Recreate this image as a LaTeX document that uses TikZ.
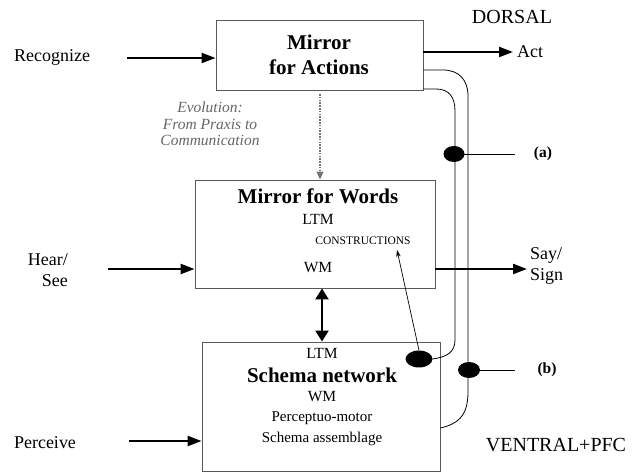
\documentclass[tikz,border=0pt]{standalone}
\usepackage{fontspec}
\setmainfont{Liberation Serif}
\usetikzlibrary{arrows.meta,shapes.geometric}
\begin{document}
\begin{tikzpicture}[x=1pt,y=-1pt,
  box/.style={draw=black!65, line width=0.9pt, inner sep=0pt},
  lbl/.style={font=\fontsize{18}{21}\selectfont, inner sep=0pt},
  ttl/.style={font=\fontsize{21}{25}\selectfont\bfseries, inner sep=0pt, align=center},
  mem/.style={font=\fontsize{15.5}{17}\selectfont, inner sep=0pt},
  region/.style={font=\fontsize{20}{22}\selectfont, inner sep=0pt},
  tag/.style={font=\fontsize{15.5}{17}\selectfont\bfseries, inner sep=0pt},
  bigarrow/.style={line width=2.2pt, -{Triangle[length=14pt,width=10pt]}},
  wire/.style={line width=0.8pt},
  blob/.style={ellipse, fill=black, inner sep=0pt}
]
\useasboundingbox (0,0) rectangle (633,473);

% boxes
\node[box, minimum width=207pt, minimum height=70pt] (act) at (319.5,55) {};
\node[box, minimum width=240pt, minimum height=108pt] (words) at (315,234) {};
\node[box, minimum width=238pt, minimum height=129pt] (schema) at (321,406.5) {};

% box texts
\node[ttl] (actT1) at (319,42) {Mirror};
\node[ttl] (actT2) at (319,67) {for Actions};
\node[ttl] (wordsT) at (318,196) {Mirror for Words};
\node[mem] (wLTM) at (318,219) {LTM};
\node[font=\fontsize{11.5}{13}\selectfont, inner sep=0pt] (cons) at (363,241) {CONSTRUCTIONS};
\node[mem] (wWM) at (318,268) {WM};
\node[mem] (sLTM) at (322,353) {LTM};
\node[ttl] (schemaT) at (322,375) {Schema network};
\node[mem] (sWM) at (322,397) {WM};
\node[font=\fontsize{15}{17}\selectfont, inner sep=0pt] (pm) at (322,418) {Perceptuo-motor};
\node[font=\fontsize{15}{17}\selectfont, inner sep=0pt] (sa) at (322,439) {Schema assemblage};

% outer labels
\node[lbl] (recognize) at (52,57) {Recognize};
\node[lbl, align=right, anchor=east] (hear) at (68,270) {Hear/\\See};
\node[lbl] (perceive) at (45,443) {Perceive};
\node[lbl, anchor=west] (actL) at (517,52) {Act};
\node[lbl, align=left, anchor=west] (say) at (530,266) {Say/\\Sign};
\node[region] (dorsal) at (512,17) {DORSAL};
\node[region] (ventral) at (556,445) {VENTRAL+PFC};
\node[tag] (ta) at (543,154) {(a)};
\node[tag] (tb) at (547,370) {(b)};
\node[font=\fontsize{15.5}{16.5}\selectfont\itshape, text=black!60, align=center, inner sep=0pt] (evo) at (210,124) {Evolution:\\From Praxis to\\Communication};

% coordinates
\coordinate (recS) at (127,58);
\coordinate (actE) at (513,52);
\coordinate (hearS) at (108,269);
\coordinate (sayE) at (527,269);
\coordinate (percS) at (129,441);
\coordinate (dbl) at (322,0);
\coordinate (evoX) at (320,94);
\coordinate (aEnd) at (515,154);
\coordinate (bEnd) at (515,370);
\coordinate (consTip) at (397,250);

% input / output arrows
\draw[bigarrow] (recS) -- (recS -| act.west);
\draw[bigarrow] (act.east |- actE) -- (actE);
\draw[bigarrow] (hearS) -- (hearS -| words.west);
\draw[bigarrow] (words.east |- sayE) -- (sayE);
\draw[bigarrow] (percS) -- (percS -| schema.west);
\draw[line width=2.4pt, {Triangle[length=11pt,width=13pt]}-{Triangle[length=11pt,width=13pt]}]
  (words.south -| dbl) -- (schema.north -| dbl);

% evolution dotted arrow
\draw[black!55, line width=1.3pt, dash pattern=on 1.6pt off 1.2pt, -{Triangle[length=8pt,width=7pt]}]
  (evoX) -- (words.north -| evoX);

% blobs
\node[blob, minimum width=27pt, minimum height=17pt] (bigblob) at (419,359) {};
\node[blob, minimum width=21pt, minimum height=16pt] (ba) at (454,154) {};
\node[blob, minimum width=22pt, minimum height=16pt] (bb) at (469,370) {};

% curved pathways
\draw[wire] (act.east |- 0,70) -- (443,70) .. controls (459,70) and (468,80) .. (468,96)
  -- (468,392) .. controls (468,417) and (457,424) .. (schema.east |- 0,428);
\draw[wire] (act.east |- 0,89) -- (436,89) .. controls (449,89) and (455,97) .. (455,111)
  -- (455,340) .. controls (455,352) and (447,357) .. (bigblob.east);
\draw[wire] (ba.center) -- (aEnd);
\draw[wire] (bb.center) -- (bEnd);
\draw[line width=0.7pt, -{Stealth[length=7pt,width=4.5pt]}] (bigblob.north) -- (consTip);
\end{tikzpicture}
\end{document}
